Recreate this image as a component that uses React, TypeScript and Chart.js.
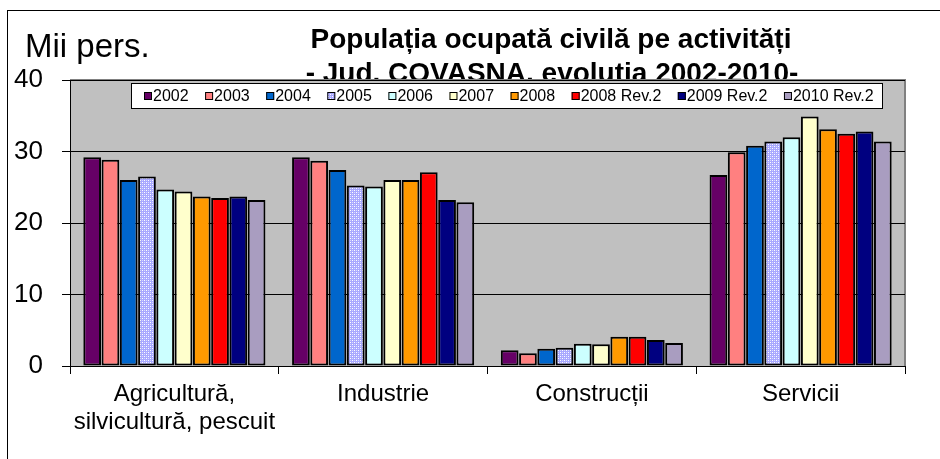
import React, { useEffect, useRef } from "react";
import { Chart, registerables } from "chart.js";

Chart.register(...registerables);

const categories: (string | string[])[] = [
  ["Agricultură,", "silvicultură, pescuit"],
  "Industrie",
  "Construcții",
  "Servicii",
];

const seriesLabels = [
  "2002", "2003", "2004", "2005", "2006", "2007", "2008",
  "2008 Rev.2", "2009 Rev.2", "2010 Rev.2",
];

const v2002 = [29.2, 29.2, 2.2, 26.7];
const v2003 = [28.85, 28.7, 1.8, 29.9];
const v2004 = [26.0, 27.4, 2.4, 30.8];
const v2005 = [26.5, 25.25, 2.55, 31.4];
const v2006 = [24.7, 25.1, 3.1, 32.0];
const v2007 = [24.4, 26.0, 3.05, 34.9];
const v2008 = [23.7, 26.0, 4.1, 33.1];
const v2008r = [23.5, 27.1, 4.1, 32.5];
const v2009r = [23.7, 23.2, 3.65, 32.8];
const v2010r = [23.2, 22.9, 3.2, 31.4];

const seriesValues = [v2002, v2003, v2004, v2005, v2006, v2007, v2008, v2008r, v2009r, v2010r];

const yTicks = [0, 10, 20, 30, 40];

const titleLine1 = "Populația ocupată civilă pe activități";
const titleLine2 = "- Jud. COVASNA, evolutia 2002-2010-";
const unitLabel = "Mii pers.";

const FONT = "'Liberation Sans', Arial, sans-serif";

function makePattern(): CanvasPattern | string {
  const c = document.createElement("canvas");
  c.width = 4;
  c.height = 4;
  const g = c.getContext("2d");
  if (!g) return "#C0C0FF";
  g.fillStyle = "#A8A8FF";
  g.fillRect(0, 0, 4, 4);
  g.fillStyle = "#FFFFFF";
  g.fillRect(0, 0, 1, 1);
  g.fillRect(2, 2, 1, 1);
  g.fillStyle = "#D8D8FF";
  g.fillRect(2, 0, 1, 1);
  g.fillRect(0, 2, 1, 1);
  const p = g.createPattern(c, "repeat");
  return p || "#C0C0FF";
}

export default function App() {
  const ref = useRef<HTMLCanvasElement | null>(null);

  useEffect(() => {
    const canvas = ref.current;
    if (!canvas) return;
    const pattern = makePattern();
    const colors: (string | CanvasPattern)[] = [
      "#660066", "#FF8080", "#0066CC", pattern, "#CCFFFF", "#FFFFCC",
      "#FF9900", "#FF0000", "#000080", "#A99DC0",
    ];

    const framePlugin = {
      id: "frame",
      beforeDraw(chart: any) {
        const ctx = chart.ctx;
        const ca = chart.chartArea;
        ctx.save();
        ctx.fillStyle = "#FFFFFF";
        ctx.fillRect(0, 0, chart.width, chart.height);
        ctx.strokeStyle = "#000";
        ctx.lineWidth = 1;
        ctx.strokeRect(7.5, 10.5, 1200, 1200);
        ctx.fillStyle = "#000";
        ctx.font = `33px ${FONT}`;
        ctx.textAlign = "left";
        ctx.textBaseline = "alphabetic";
        ctx.fillText(unitLabel, 25, 57);
        ctx.font = `bold 28px ${FONT}`;
        ctx.textAlign = "center";
        ctx.fillText(titleLine1, 551, 48);
        ctx.fillText(titleLine2, 552, 82);
        ctx.fillStyle = "#C0C0C0";
        ctx.fillRect(ca.left, ca.top, ca.right - ca.left, ca.bottom - ca.top);
        ctx.strokeStyle = "#808080";
        ctx.lineWidth = 2;
        ctx.beginPath();
        ctx.moveTo(ca.left, ca.top);
        ctx.lineTo(ca.right, ca.top);
        ctx.lineTo(ca.right, ca.bottom);
        ctx.stroke();
        ctx.restore();
      },
      afterDraw(chart: any) {
        const ctx = chart.ctx;
        ctx.save();
        ctx.fillStyle = "#FFFFFF";
        ctx.fillRect(131, 83, 751, 25);
        ctx.strokeStyle = "#000";
        ctx.lineWidth = 1;
        ctx.strokeRect(131.5, 83.5, 751, 25);
        ctx.font = `16px ${FONT}`;
        ctx.textAlign = "left";
        ctx.textBaseline = "middle";
        let x = 144;
        chart.data.datasets.forEach((ds: any) => {
          ctx.fillStyle = ds.backgroundColor;
          ctx.fillRect(x, 92, 8, 8);
          ctx.strokeStyle = "#000";
          ctx.strokeRect(x + 0.5, 92.5, 7, 7);
          ctx.fillStyle = "#000";
          ctx.fillText(ds.label, x + 9, 96.5);
          x += 9 + ctx.measureText(ds.label).width + 16.5;
        });
        ctx.restore();
      },
    };

    const chart = new Chart(canvas, {
      type: "bar",
      data: {
        labels: categories,
        datasets: seriesLabels.map((lab, i) => ({
          label: lab,
          data: seriesValues[i],
          backgroundColor: colors[i],
          borderColor: "#000000",
          borderWidth: 2,
          borderSkipped: false,
          categoryPercentage: 0.875,
          barPercentage: 0.97,
        })),
      },
      options: {
        responsive: false,
        animation: false,
        layout: { padding: { left: 0, right: 35, top: 80, bottom: 0 } },
        plugins: {
          legend: { display: false },
          title: { display: false },
          tooltip: { enabled: false },
        },
        scales: {
          x: {
            afterFit(scale: any) {
              scale.height = 93;
            },
            grid: {
              drawOnChartArea: false,
              drawTicks: true,
              tickLength: 8,
              color: "#000",
              offset: true,
            },
            border: { display: true, color: "#000", width: 1 },
            ticks: {
              color: "#000",
              font: { family: FONT, size: 24, lineHeight: 1.17 },
              padding: 6,
              maxRotation: 0,
              autoSkip: false,
            },
          },
          y: {
            min: 0,
            max: 40,
            afterFit(scale: any) {
              scale.width = 70;
            },
            afterBuildTicks(scale: any) {
              scale.ticks = yTicks.map((v) => ({ value: v }));
            },
            grid: {
              color: "#000",
              lineWidth: 1,
              tickLength: 8,
              drawTicks: true,
            },
            border: { display: true, color: "#000", width: 1 },
            ticks: {
              color: "#000",
              font: { family: FONT, size: 26 },
              padding: 19,
            },
          },
        },
      },
      plugins: [framePlugin],
    });

    return () => chart.destroy();
  }, []);

  return (
    <div style={{ position: "fixed", left: 0, top: 0, width: 940, height: 459, background: "#fff" }}>
      <canvas ref={ref} width={940} height={459} style={{ display: "block" }} />
    </div>
  );
}
